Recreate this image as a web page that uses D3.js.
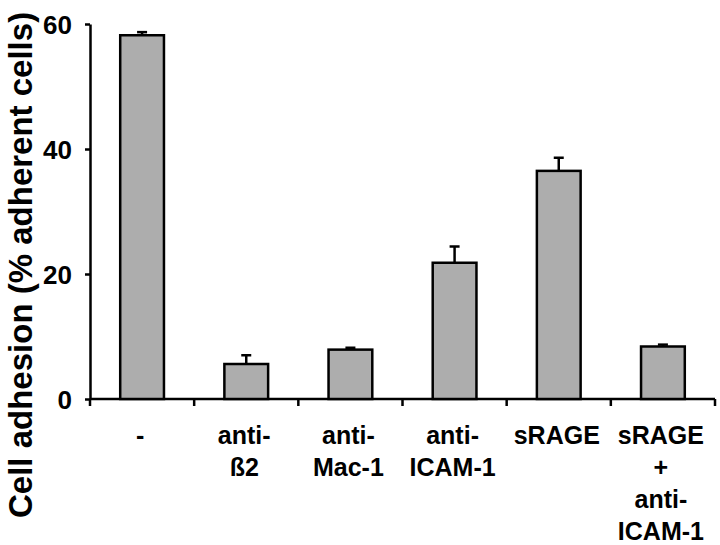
<!DOCTYPE html>
<meta charset="utf-8">
<html>
  <head>
    <title>Cell adhesion</title>
    <style>
      html,body{
        margin:0;
        padding:0;
        background:#fff;
      }
      text{
        font-family: 'Liberation Sans', Arial, Helvetica, sans-serif;
        font-weight: bold;
        fill: #000;
      }
      .bar{
        fill: #adadad;
        stroke: #000;
        stroke-width: 2.5;
      }
      .err{
        stroke: #000;
        stroke-width: 2.5;
        fill: none;
      }
    </style>
  </head>
  <body>
    <svg xmlns="http://www.w3.org/2000/svg"></svg>
    <script src="https://d3js.org/d3.v7.min.js"></script>
    <script type="text/javascript">
      var width = 720, height = 545;

      // categories (each entry is the wrapped label lines)
      var categories = ['-', 'anti-ß2', 'anti-Mac-1', 'anti-ICAM-1', 'sRAGE', 'sRAGE+anti-ICAM-1'];
      var labelLines = [['-'], ['anti-', 'ß2'], ['anti-', 'Mac-1'], ['anti-', 'ICAM-1'], ['sRAGE'], ['sRAGE', '+', 'anti-', 'ICAM-1']];
      var adhesion = [58.2, 5.6, 7.9, 21.8, 36.5, 8.4];
      var errors = [0.5, 1.4, 0.3, 2.6, 2.1, 0.3];
      var yTicks = [0, 20, 40, 60];

      var margin = {left: 90, right: 5, top: 24, bottom: 146};

      var svg = d3.select('svg')
        .attr('width', width)
        .attr('height', height);

      var x = d3.scaleBand()
        .domain(categories)
        .range([margin.left, width - margin.right])
        .paddingInner(0.58)
        .paddingOuter(0.29);

      var y = d3.scaleLinear()
        .domain([0, 60])
        .range([height - margin.bottom, margin.top]);

      var step = x.step();
      var x0 = x.range()[0];

      // y axis
      var yAxis = svg.append('g')
        .attr('transform', 'translate(' + margin.left + ',0)')
        .call(d3.axisLeft(y).tickValues(yTicks).tickSize(5).tickPadding(13).tickSizeOuter(0));
      yAxis.select('.domain').attr('stroke-width', 2.5);
      yAxis.selectAll('.tick line').attr('stroke-width', 2.5);
      yAxis.selectAll('.tick text')
        .style('font-size', '26px')
        .style('font-family', "'Liberation Sans', Arial, sans-serif")
        .style('font-weight', 'bold')
        .attr('dy', '0.36em');

      // y title
      svg.append('text')
        .attr('transform', 'translate(32,518) rotate(-90)')
        .attr('text-anchor', 'start')
        .style('font-size', '33px')
        .text('Cell adhesion (% adherent cells)');

      // x axis line with ticks at category boundaries
      var bounds = d3.range(categories.length + 1).map(function(i){ return x0 + i * step; });
      svg.append('line')
        .attr('x1', margin.left).attr('x2', bounds[bounds.length - 1])
        .attr('y1', y(0)).attr('y2', y(0))
        .attr('stroke', '#000').attr('stroke-width', 2.5);
      svg.selectAll('.xtick').data(bounds).enter()
        .append('line')
        .attr('class', 'xtick')
        .attr('x1', function(d){ return d; }).attr('x2', function(d){ return d; })
        .attr('y1', y(0)).attr('y2', y(0) + 7)
        .attr('stroke', '#000').attr('stroke-width', 2.5);

      // bars
      svg.selectAll('.bar').data(adhesion).enter()
        .append('rect')
        .attr('class', 'bar')
        .attr('x', function(d, i){ return x(categories[i]); })
        .attr('width', x.bandwidth())
        .attr('y', function(d){ return y(d); })
        .attr('height', function(d){ return y(0) - y(d); });

      // error bars
      var eb = svg.selectAll('.errg').data(adhesion).enter()
        .append('g').attr('class', 'err');
      eb.append('line')
        .attr('x1', function(d, i){ return x(categories[i]) + x.bandwidth() / 2; })
        .attr('x2', function(d, i){ return x(categories[i]) + x.bandwidth() / 2; })
        .attr('y1', function(d){ return y(d); })
        .attr('y2', function(d, i){ return y(d + errors[i]); });
      eb.append('line')
        .attr('x1', function(d, i){ return x(categories[i]) + x.bandwidth() / 2 - 5; })
        .attr('x2', function(d, i){ return x(categories[i]) + x.bandwidth() / 2 + 5; })
        .attr('y1', function(d, i){ return y(d + errors[i]); })
        .attr('y2', function(d, i){ return y(d + errors[i]); });

      // category labels
      var lab = svg.selectAll('.catlabel').data(labelLines).enter()
        .append('text')
        .attr('class', 'catlabel')
        .attr('text-anchor', 'middle')
        .style('font-size', '25px')
        .attr('transform', function(d, i){
          return 'translate(' + (x(categories[i]) + x.bandwidth() / 2 - 2) + ',' + (y(0) + 45) + ')';
        });
      lab.selectAll('tspan').data(function(d){ return d; }).enter()
        .append('tspan')
        .attr('x', 0)
        .attr('y', function(d, i){ return i * 32; })
        .text(function(d){ return d; });
    </script>
  </body>
</html>
